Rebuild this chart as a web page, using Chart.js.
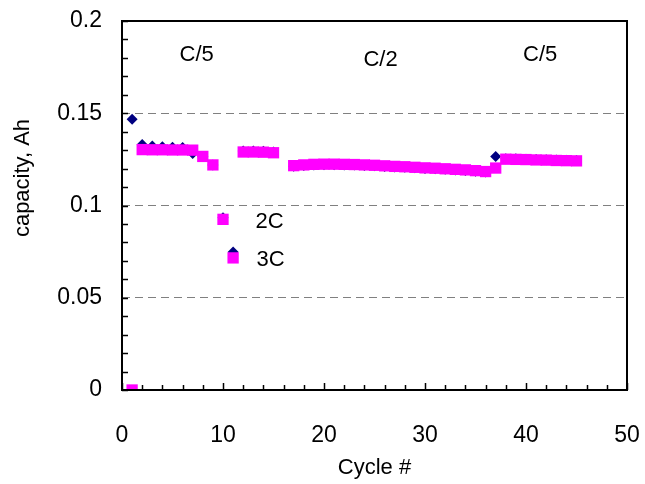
<!DOCTYPE html>
<html>
<head>
<meta charset="utf-8">
<script src="https://cdn.jsdelivr.net/npm/chart.js@4.4.0/dist/chart.umd.min.js"></script>
<style>
  html, body { margin: 0; padding: 0; background: #fff; }
  #wrap { width: 645px; height: 484px; }
</style>
</head>
<body>
<div id="wrap"><canvas id="chartCap"></canvas></div>
<script>
// cycle numbers (cycle 16 has no data)
const cycles = [1, 2, 3, 4, 5, 6, 7, 8, 9, 10, 11, 12, 13, 14, 15,
  17, 18, 19, 20, 21, 22, 23, 24, 25, 26, 27, 28, 29, 30, 31, 32, 33, 34, 35, 36,
  37, 38, 39, 40, 41, 42, 43, 44, 45];

// navy diamonds
const capA = [0.1467, 0.1330, 0.1322, 0.1318, 0.1316, 0.1314, 0.1282, 0.1266, 0.1220, 0.0933, 0.0748,
  0.1296, 0.1296, 0.1294, 0.1290,
  0.1213, 0.1217, 0.1220, 0.1221, 0.1221, 0.1220, 0.1219, 0.1217, 0.1215, 0.1212, 0.1209,
  0.1207, 0.1204, 0.1201, 0.1199, 0.1196, 0.1193, 0.1190, 0.1186, 0.1181,
  0.1265, 0.1254, 0.1253, 0.1251, 0.1250, 0.1248, 0.1247, 0.1245, 0.1244];

// magenta squares
const capB = [0.0, 0.1303, 0.1302, 0.1302, 0.1301, 0.1301, 0.1300, 0.1266, 0.1220, 0.0925, 0.0716,
  0.1290, 0.1290, 0.1289, 0.1286,
  0.1216, 0.1220, 0.1223, 0.1224, 0.1224, 0.1223, 0.1222, 0.1220, 0.1218, 0.1215, 0.1212,
  0.1210, 0.1207, 0.1204, 0.1202, 0.1199, 0.1196, 0.1193, 0.1189, 0.1184,
  0.1203, 0.1251, 0.1250, 0.1249, 0.1247, 0.1246, 0.1244, 0.1243, 0.1242];

const xTicks = [0, 10, 20, 30, 40, 50];
const yTicks = [0, 0.05, 0.1, 0.15, 0.2];

// rate labels placed in data coordinates
const noteText = ["C/5", "C/2", "C/5", "2C", "3C"];
const noteX = [7.4, 25.6, 41.4, 14.6, 14.7];
const noteY = [0.1815, 0.1788, 0.1815, 0.0910, 0.0705];

const FONT = "'Liberation Sans', Arial, sans-serif";

const ptsA = cycles.map((c, i) => ({ x: c, y: capA[i] }));
const ptsB = cycles.map((c, i) => ({ x: c, y: capB[i] }));

const frame = {
  id: "frame",
  afterDraw(chart) {
    const { ctx, chartArea: a, scales } = chart;
    const xs = scales.x, ys = scales.y;
    ctx.save();
    ctx.strokeStyle = "#000";
    ctx.lineWidth = 1.5;
    // minor tick marks, pointing inward
    ctx.beginPath();
    for (let v = 0; v <= 20; v++) {
      const py = Math.round(ys.getPixelForValue(v / 100)) + 0.5;
      ctx.moveTo(a.left, py);
      ctx.lineTo(a.left + 6, py);
    }
    for (let c = 0; c <= 50; c += 2) {
      const px = Math.round(xs.getPixelForValue(c)) + 0.5;
      ctx.moveTo(px, a.bottom);
      ctx.lineTo(px, a.bottom - (c % 10 === 0 ? 7 : 5));
    }
    ctx.stroke();
    ctx.lineWidth = 2;
    ctx.strokeRect(a.left, a.top, a.right - a.left, a.bottom - a.top);

    ctx.fillStyle = "#000";
    ctx.font = "22px " + FONT;
    ctx.textAlign = "center";
    ctx.textBaseline = "middle";
    noteText.forEach((t, i) => {
      ctx.fillText(t, xs.getPixelForValue(noteX[i]), ys.getPixelForValue(noteY[i]));
    });

    // y axis title, sits a little above the middle of the axis
    ctx.translate(23, 178);
    ctx.rotate(-Math.PI / 2);
    ctx.fillText("capacity, Ah", 0, 0);
    ctx.restore();
  }
};

new Chart(document.getElementById("chartCap"), {
  type: "scatter",
  data: {
    datasets: [
      {
        label: "A",
        data: ptsA,
        pointStyle: "rectRot",
        pointRadius: 5.5,
        pointHoverRadius: 5.5,
        backgroundColor: "#000080",
        borderColor: "#000080",
        borderWidth: 0,
        order: 2,
      },
      {
        label: "B",
        data: ptsB,
        pointStyle: "rect",
        pointRadius: 8,
        pointHoverRadius: 8,
        backgroundColor: "#ff00ff",
        borderColor: "#ff00ff",
        borderWidth: 0,
        order: 1,
      },
    ],
  },
  options: {
    responsive: true,
    maintainAspectRatio: false,
    animation: false,
    events: [],
    layout: { padding: { top: 21, right: 18, left: 0, bottom: 0 } },
    plugins: {
      legend: { display: false },
      tooltip: { enabled: false },
    },
    scales: {
      x: {
        type: "linear",
        min: 0,
        max: 50,
        afterBuildTicks: s => { s.ticks = xTicks.map(v => ({ value: v })); },
        afterFit: s => { s.height = 94; s.paddingLeft = 0; s.paddingRight = 0; },
        grid: { display: false, drawTicks: false },
        border: { display: false },
        ticks: {
          padding: 32,
          color: "#000",
          font: { family: FONT, size: 23 },
          maxRotation: 0,
        },
        title: {
          display: true,
          text: "Cycle #",
          color: "#000",
          font: { family: FONT, size: 22 },
          padding: { top: 0, bottom: 3 },
        },
      },
      y: {
        type: "linear",
        min: 0,
        max: 0.2,
        afterBuildTicks: s => { s.ticks = yTicks.map(v => ({ value: v })); },
        afterFit: s => { s.width = 122; s.paddingTop = 0; s.paddingBottom = 0; },
        grid: {
          drawTicks: false,
          color: c => (c.tick && c.tick.value > 0 && c.tick.value < 0.2 ? "#808080" : "rgba(0,0,0,0)"),
          lineWidth: 1,
        },
        border: { display: false, dash: [8, 5] },
        ticks: {
          padding: 20,
          color: "#000",
          font: { family: FONT, size: 23 },
          callback: v => String(Math.round(v * 100) / 100),
        },
        title: { display: false },
      },
    },
  },
  plugins: [frame],
});
</script>
</body>
</html>
